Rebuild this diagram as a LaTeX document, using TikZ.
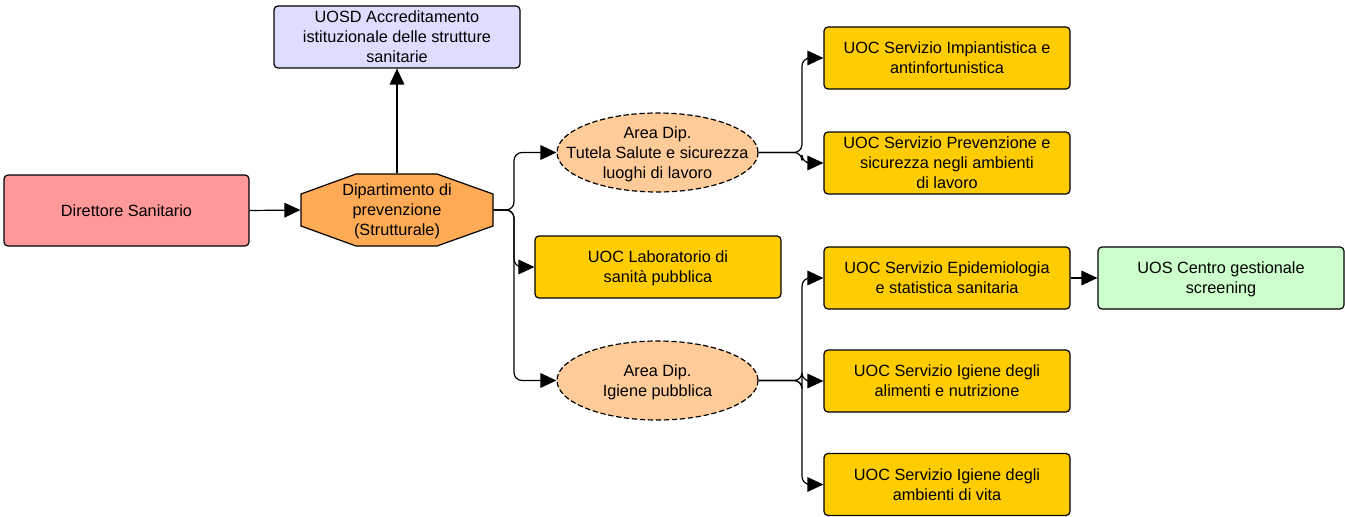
\documentclass[tikz,border=0pt]{standalone}
\usepackage{fontspec}
\setmainfont{Liberation Sans}
\usetikzlibrary{arrows.meta,shapes.geometric}
\definecolor{cDir}{HTML}{FF9999}
\definecolor{cOct}{HTML}{FFAA55}
\definecolor{cAcc}{HTML}{DDDDFF}
\definecolor{cEll}{HTML}{FFCC99}
\definecolor{cUoc}{HTML}{FFCC00}
\definecolor{cUos}{HTML}{CCFFCC}
\tikzset{
  base/.style={font=\fontsize{12.2pt}{15pt}\selectfont, align=center, inner sep=0pt, line width=0.9pt},
  box/.style={base, draw, rounded corners=3pt, minimum width=184.5pt, minimum height=46.5pt, text depth=-3pt},
  dirbox/.style={box, fill=cDir, minimum width=183.75pt, minimum height=53.25pt},
  accbox/.style={box, fill=cAcc},
  uocbox/.style={box, fill=cUoc},
  uosbox/.style={box, fill=cUos},
  areaell/.style={base, draw, ellipse, fill=cEll, dash pattern=on 4pt off 2pt, minimum width=150.75pt, minimum height=59.25pt},
  plaintext/.style={base, text depth=-3pt},
  octtext/.style={base, minimum width=144pt, minimum height=54pt, text depth=-3pt},
  conn/.style={line width=0.9pt, rounded corners=6pt, -{Triangle[length=12pt,width=11pt]}},
}
\begin{document}
\begin{tikzpicture}[x=0.75pt,y=-0.75pt]
\useasboundingbox (0,0) rectangle (1345,517);
% octagon
\fill[cOct, draw=black, line width=0.9pt] (356,174) -- (437,174) -- (493,194) -- (493,226) -- (437,246) -- (356,246) -- (301,226) -- (301,194) -- cycle;
\node[octtext] (oct) at (397,210) {Dipartimento di\\prevenzione\\(Strutturale)};
\node[dirbox] (dir) at (126.5,210.5) {Direttore Sanitario};
\node[accbox] (acc) at (397,37) {UOSD Accreditamento\\istituzionale delle strutture\\sanitarie};
\node[areaell] (a1) at (657.5,152.5) {};
\node[plaintext] (a1t) at (657.5,152.5) {Area Dip.\\Tutela Salute e sicurezza\\luoghi di lavoro};
\node[areaell] (a2) at (657.5,380.5) {};
\node[plaintext] (a2t) at (657.5,380.5) {Area Dip.\\Igiene pubblica};
\node[uocbox] (lab) at (658,267) {UOC Laboratorio di\\sanità pubblica};
\node[uocbox] (b1) at (947,58) {UOC Servizio Impiantistica e\\antinfortunistica};
\node[uocbox] (b2) at (947,163) {UOC Servizio Prevenzione e\\sicurezza negli ambienti\\di lavoro};
\node[uocbox] (b3) at (947,278) {UOC Servizio Epidemiologia\\e statistica sanitaria};
\node[uocbox] (b4) at (947,381) {UOC Servizio Igiene degli\\alimenti e nutrizione};
\node[uocbox] (b5) at (947,484.5) {UOC Servizio Igiene degli\\ambienti di vita};
\node[uosbox] (uos) at (1221,278) {UOS Centro gestionale\\screening};
% connectors
\draw[conn] (dir.east) -- (oct.west);
\draw[conn] (oct.north) -- (acc.south);
\draw[conn] (oct.east) -- (514,210) |- (a1.west);
\draw[conn] (oct.east) -- (514,210) |- (lab.west);
\draw[conn] (oct.east) -- (514,210) |- (a2.west);
\draw[conn] (a1.east) -- (802,152.5) |- (b1.west);
\draw[conn] (a1.east) -- (802,152.5) |- (b2.west);
\draw[conn] (a2.east) -- (802,380.5) |- (b3.west);
\draw[conn] (a2.east) -- (802,380.5) |- (b4.west);
\draw[conn] (a2.east) -- (802,380.5) |- (b5.west);
\draw[conn] (b3.east) -- (uos.west);
\end{tikzpicture}
\end{document}
